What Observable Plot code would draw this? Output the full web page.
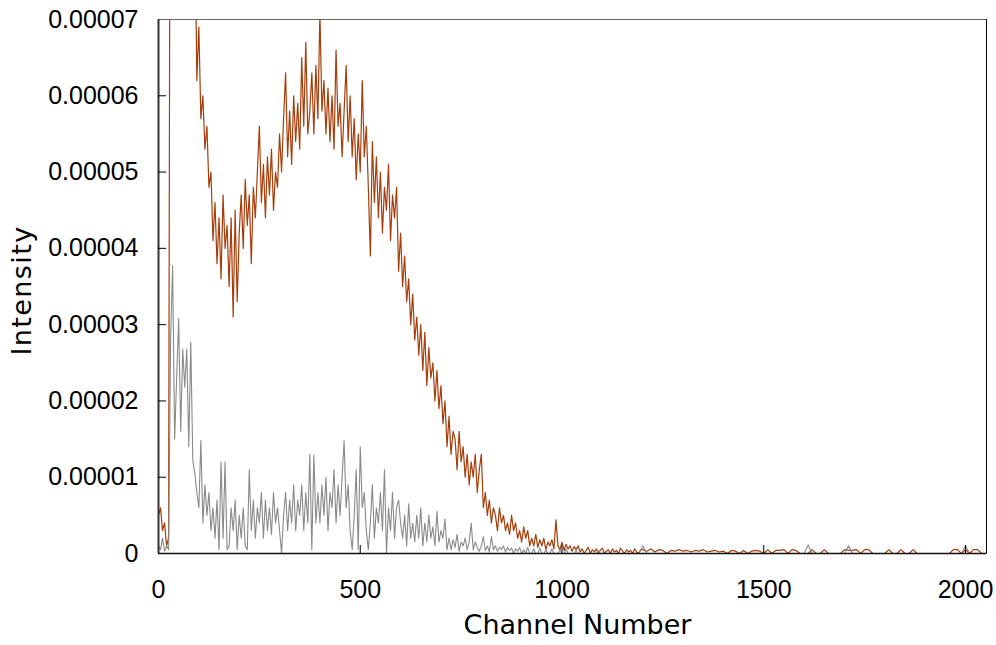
<!DOCTYPE html>
<html>
<head>
<meta charset="utf-8">
<script src="https://cdn.jsdelivr.net/npm/d3@7"></script>
<script src="https://cdn.jsdelivr.net/npm/@observablehq/plot@0.6"></script>
<style>
  html, body { margin: 0; padding: 0; background: #fff; }
  #chart svg { display: block; }
</style>
</head>
<body>
<div id="chart"></div>
<script>
// ---- Data (intensity in units of 1e-6) ----
const mainStep = 5;        // channels 0..1195, every 5 channels
const tailStart = 1200;    // channels 1200..2040, every 10 channels
const tailStep = 10;

const orangeMain = [
  5, 6, 3, 4, 1, 2, 130, 150, 160, 170,
  165, 155, 140, 130, 120, 110, 100, 90, 85, 62,
  69, 57, 60, 53, 56, 48, 50, 41, 46, 38,
  44, 36, 47, 40, 43, 35, 44, 31, 45, 33,
  42, 47, 40, 49, 43, 47, 38, 48, 44, 50,
  56, 46, 51, 44, 52, 47, 53, 45, 50, 48,
  55, 50, 57, 63, 52, 58, 51, 60, 54, 59,
  53, 65, 56, 67, 55, 58, 63, 55, 64, 57,
  71, 58, 62, 55, 61, 54, 60, 53, 66, 56,
  59, 52, 58, 64, 54, 60, 52, 57, 49, 55,
  50, 62, 52, 56, 48, 39, 54, 46, 52, 44,
  50, 42, 48, 45, 51, 41, 47, 44, 48, 37,
  42, 35, 39, 33, 36, 30, 34, 28, 31, 26,
  30, 24, 29, 22, 27, 23, 25, 20, 24, 19,
  22, 17, 20, 14, 18, 13, 16, 15, 11, 16,
  12, 14, 10, 13, 9, 12, 10, 13, 8, 11,
  13, 6, 8, 5, 7, 4, 6, 5, 3, 6,
  4, 5, 3, 4, 2.5, 5, 3, 4, 2, 3,
  1.5, 3.5, 2, 3, 1, 2, 1, 2.5, 0.8, 1.8,
  1, 2, 0.5, 1.5, 1, 1.8, 0.6, 4.4, 1, 0.5,
  1.5, 0.4, 1.2, 0.6, 1, 0.3, 0.9, 0.5, 1, 0.2,
  0.6, 0, 0.4, 0.8, 0, 0.5, 0.2, 0.6, 0, 0.4,
  0.7, 0, 0.3, 0.5, 0, 0.6, 0.2, 0.4, 0, 0.7,
  0.3, 0, 0.5, 0.2, 0.4, 0, 0.6, 0.2, 0, 0.5
];
const orangeTail = [
  0.5, 0.3, 0.6, 0.2, 0.5, 0.4, 0, 0.4, 0.3, 0.5,
  0.3, 0.4, 0.2, 0.4, 0.3, 0.5, 0.2, 0.3, 0.4, 0.2,
  0.3, 0, 0.4, 0.3, 0, 0.4, 0, 0.3, 0.4, 0.3,
  0, 0.5, 0, 0.4, 0.4, 0.5, 0, 0.5, 0.4, 0,
  0, 0, 0.5, 0, 0, 0.5, 0, 0, 0, 0,
  0.5, 0.4, 0.4, 0.5, 0, 0.5, 0.5, 0, 0, 0,
  0, 0.5, 0, 0, 0.5, 0, 0, 0.5, 0, 0,
  0, 0, 0, 0, 0, 0, 0, 0.5, 0.5, 0,
  0.5, 0, 0.5, 0.5, 0
];
const grayMain = [
  1, 0.5, 2, 0.3, 1, 0.5, 28, 37.7, 15, 23,
  30.8, 16, 26.8, 21.8, 26.8, 14, 27.7, 12.2, 10.5, 8,
  6, 14.8, 4, 9, 5, 8, 3, 6, 2, 7,
  0.5, 12, 2, 12, 0.5, 1, 6, 3, 7, 0.5,
  5, 2, 6, 1, 0.5, 11, 3, 7, 2, 6,
  4, 8, 2, 7, 3, 6, 2.5, 8, 4, 6,
  3, 0, 5, 8, 3, 7, 4, 9, 3, 7,
  5, 9, 3, 8, 4, 13, 0.5, 12.9, 4, 8,
  4, 9, 5, 10, 3, 8, 6, 11, 4, 9,
  5, 10, 14.8, 6, 9, 3, 0.5, 5, 11, 0.5,
  14, 6, 8, 3, 0.5, 4, 9, 2, 6, 4,
  8, 3, 11, 0, 6, 3, 8, 2, 6, 7,
  4, 2, 5, 1, 6.5, 2, 4, 1.5, 5, 2,
  6, 1, 4, 1.5, 5, 2, 3.5, 1, 5.5, 1.5,
  3, 2, 4.5, 0.5, 2, 0.5, 1.8, 0.8, 2.5, 0.3,
  1.5, 1, 2, 0.5, 1.5, 4, 0.5, 1.5, 0.8, 0.3,
  1, 2.2, 0.4, 1, 0.2, 2.2, 0.5, 1, 0.3, 0.8,
  0.5, 1, 0.2, 0.8, 0.4, 0.7, 0, 0.6, 0.3, 0.8,
  0, 0.5, 0, 0.8, 0, 0, 0.6, 0, 0, 0.7,
  0, 0, 0.5, 0, 0, 0.6, 0, 0, 0, 0.5,
  0, 0, 0.6, 0, 0, 0, 0, 0.4, 0, 0,
  0, 0, 0, 0, 0, 0, 0, 0, 0.4, 0,
  0, 0, 0, 0, 0, 0, 0, 0, 0, 0,
  0, 0, 0, 0, 0, 0, 0, 0, 0, 0.4
];
const grayTail = [
  1, 0, 0, 0, 0, 0, 0, 0, 0, 0,
  0, 0, 0, 0, 0, 0, 0, 0, 0, 0,
  0, 0, 0, 0, 0, 0, 0, 0, 0, 0,
  0, 0, 0, 0, 0, 0, 0, 0, 0, 0,
  0, 1.1, 0, 0, 0, 0, 0, 0, 0, 0,
  0, 1, 0, 0, 0, 0, 0, 0, 0, 0,
  0, 0, 0, 0, 0, 0, 0, 0, 0, 0,
  0, 0, 0, 0, 0, 0, 0, 0, 0, 0,
  1, 0, 0, 0, 0
];

const xTicks = [0, 500, 1000, 1500, 2000];
const xTickLabels = ["0", "500", "1000", "1500", "2000"];
const yTicks = [0, 0.00001, 0.00002, 0.00003, 0.00004, 0.00005, 0.00006, 0.00007];
const yTickLabels = ["0", "0.00001", "0.00002", "0.00003", "0.00004", "0.00005", "0.00006", "0.00007"];
const xTitle = "Channel Number";
const yTitle = "Intensity";

// ---- Build tables ----
function series(main, tail) {
  const rows = main.map((v, i) => ({ch: i * mainStep, v: v * 1e-6}));
  tail.forEach((v, i) => rows.push({ch: tailStart + i * tailStep, v: v * 1e-6}));
  return rows;
}
const orange = series(orangeMain, orangeTail);
const gray = series(grayMain, grayTail);

const tickFont = "'Liberation Sans', Arial, sans-serif";
const titleFont = "'DejaVu Sans', sans-serif";

const chart = Plot.plot({
  width: 996,
  height: 645,
  marginLeft: 158,
  marginRight: 10,
  marginTop: 19,
  marginBottom: 92,
  style: {fontFamily: tickFont, fontSize: "25px", color: "#000", background: "#fff", overflow: "visible"},
  x: {domain: [0, 2052], label: null},
  y: {domain: [0, 0.00007], label: null},
  marks: [
    Plot.line(orange, {x: "ch", y: "v", stroke: "#a63d0a", strokeWidth: 1.2, clip: true}),
    Plot.line(gray, {x: "ch", y: "v", stroke: "#8a8a8a", strokeWidth: 1.1, clip: true}),
    Plot.frame({stroke: "#666", strokeWidth: 1}),
    Plot.ruleX([2052], {stroke: "#000", strokeWidth: 1}),
    Plot.ruleX([0], {stroke: "#333", strokeWidth: 2}),
    Plot.ruleY([0], {stroke: "#111", strokeWidth: 1.5}),
    // inward tick marks
    Plot.ruleX(xTicks.slice(1), {x: d => d, y1: 0, y2: 0, insetTop: -8, stroke: "#000", strokeWidth: 1}),
    Plot.ruleY(yTicks.slice(1, -1), {y: d => d, x1: 0, x2: 0, insetRight: -8, stroke: "#000", strokeWidth: 1}),
    Plot.axisX({ticks: xTicks, tickSize: 0, tickPadding: 27, tickFormat: (d, i) => xTickLabels[i], fontSize: 25, fontFamily: tickFont, label: null}),
    Plot.axisY({ticks: yTicks, tickSize: 0, tickPadding: 20, tickFormat: (d, i) => yTickLabels[i], fontSize: 25, fontFamily: tickFont, label: null}),
    Plot.text([xTitle], {text: d => d, frameAnchor: "bottom", textAnchor: "middle", lineAnchor: "middle", dx: 5, dy: 72, fontSize: 27, fontFamily: titleFont, fill: "#000"}),
    Plot.text([yTitle], {text: d => d, frameAnchor: "left", textAnchor: "middle", lineAnchor: "middle", dx: -136, dy: 4, rotate: -90, fontSize: 27, fontFamily: titleFont, fill: "#000"})
  ]
});
d3.select(chart).selectAll("text")
  .filter(function() { return this.textContent === yTitle; })
  .style("letter-spacing", "1.4px");
document.getElementById("chart").appendChild(chart);
</script>
</body>
</html>
